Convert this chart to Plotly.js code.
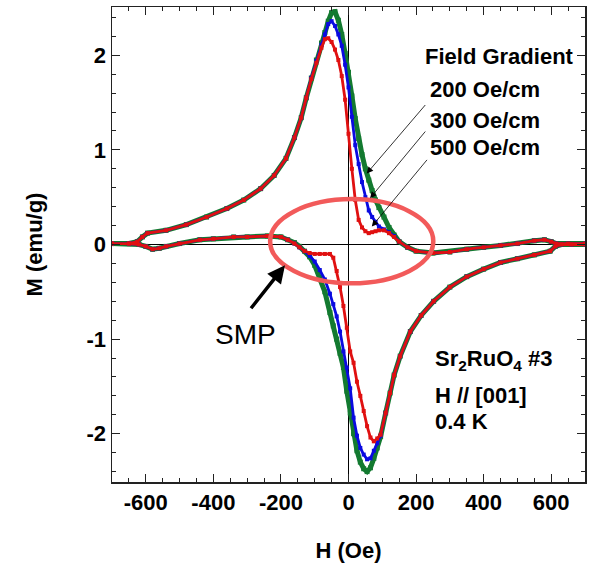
<!DOCTYPE html>
<html>
<head>
<meta charset="utf-8">
<script src="https://cdn.plot.ly/plotly-3.0.1.min.js"></script>
<style>html,body{margin:0;padding:0;background:#fff;}#chart{width:592px;height:565px;}</style>
</head>
<body>
<div id="chart"></div>
<script>
// Field H (Oe): decreasing branch (upper) and increasing branch (lower)
const H_up = [700, 650, 615, 600, 580, 550, 500, 450, 400, 350,
  300, 250, 200, 175, 150, 135, 120, 105, 90, 80,
  70, 60, 50, 40, 30, 20, 10, 0, -10, -20,
  -30, -40, -50, -60, -70, -80, -95, -110, -125, -140,
  -160, -185, -220, -260, -310, -360, -420, -480, -540, -595,
  -610, -625, -650, -700];
const H_down = [-700, -650, -620, -600, -580, -560, -540, -500, -440, -400,
  -340, -300, -240, -200, -180, -160, -145, -130, -115, -100,
  -85, -70, -55, -45, -35, -25, -15, -5, 5, 15,
  25, 35, 45, 55, 65, 75, 85, 95, 110, 123,
  135, 153, 183, 215, 252, 300, 350, 400, 450, 500,
  550, 597, 612, 630, 660, 700];

// M (emu/g), 200 Oe/cm (green)
const M_up_200 = [0.01, 0.01, 0.01, 0.03, 0.05, 0.04, 0.01, -0.01, -0.03, -0.05,
  -0.08, -0.09, -0.07, -0.03, 0.03, 0.10, 0.18, 0.29, 0.39, 0.47,
  0.57, 0.68, 0.80, 0.95, 1.12, 1.33, 1.57, 1.82, 2.02, 2.22,
  2.37, 2.46, 2.45, 2.36, 2.24, 2.13, 1.95, 1.76, 1.55, 1.34,
  1.13, 0.91, 0.73, 0.59, 0.47, 0.38, 0.29, 0.21, 0.15, 0.12,
  0.08, 0.03, 0.01, 0.01];
const M_down_200 = [0.01, 0.01, 0.00, -0.02, -0.05, -0.04, -0.02, 0.01, 0.05, 0.06,
  0.08, 0.08, 0.09, 0.08, 0.05, 0.02, -0.02, -0.07, -0.13, -0.22,
  -0.35, -0.50, -0.72, -0.86, -1.00, -1.15, -1.30, -1.55, -1.78, -2.00,
  -2.18, -2.30, -2.37, -2.40, -2.36, -2.26, -2.15, -2.03, -1.78, -1.57,
  -1.38, -1.18, -0.92, -0.75, -0.60, -0.45, -0.34, -0.26, -0.19, -0.15,
  -0.11, -0.07, -0.02, 0.00, 0.00, 0.00];

// 300 Oe/cm (blue)
const M_up_300 = [0.01, 0.01, 0.01, 0.03, 0.05, 0.04, 0.01, -0.01, -0.03, -0.05,
  -0.08, -0.09, -0.07, -0.03, 0.03, 0.09, 0.13, 0.16, 0.19, 0.24,
  0.29, 0.36, 0.50, 0.66, 0.85, 1.05, 1.35, 1.66, 1.90, 2.10,
  2.22, 2.31, 2.36, 2.33, 2.22, 2.11, 1.94, 1.76, 1.55, 1.34,
  1.13, 0.91, 0.73, 0.59, 0.47, 0.38, 0.29, 0.21, 0.15, 0.12,
  0.08, 0.03, 0.01, 0.01];
const M_down_300 = [0.01, 0.01, 0.00, -0.02, -0.05, -0.04, -0.02, 0.01, 0.05, 0.06,
  0.08, 0.08, 0.09, 0.08, 0.05, 0.01, -0.03, -0.07, -0.12, -0.18,
  -0.27, -0.37, -0.52, -0.63, -0.76, -0.92, -1.13, -1.30, -1.52, -1.83,
  -2.02, -2.15, -2.22, -2.27, -2.26, -2.18, -2.10, -2.02, -1.78, -1.57,
  -1.38, -1.18, -0.92, -0.75, -0.60, -0.45, -0.34, -0.26, -0.19, -0.15,
  -0.11, -0.07, -0.02, 0.00, 0.00, 0.00];

// 500 Oe/cm (red)
const M_up_500 = [0.01, 0.01, 0.01, 0.03, 0.05, 0.04, 0.01, -0.01, -0.03, -0.05,
  -0.08, -0.09, -0.07, -0.03, 0.03, 0.08, 0.12, 0.15, 0.15, 0.14,
  0.13, 0.12, 0.14, 0.18, 0.26, 0.47, 0.80, 1.17, 1.53, 1.78,
  1.95, 2.06, 2.14, 2.18, 2.17, 2.08, 1.92, 1.75, 1.55, 1.34,
  1.13, 0.91, 0.73, 0.59, 0.47, 0.38, 0.29, 0.21, 0.15, 0.12,
  0.08, 0.03, 0.01, 0.01];
const M_down_500 = [0.01, 0.01, 0.00, -0.02, -0.05, -0.04, -0.02, 0.01, 0.05, 0.06,
  0.08, 0.08, 0.09, 0.08, 0.05, 0.01, -0.03, -0.07, -0.09, -0.10,
  -0.10, -0.10, -0.10, -0.14, -0.28, -0.45, -0.65, -0.88, -1.13, -1.25,
  -1.45, -1.60, -1.76, -1.92, -2.04, -2.08, -2.05, -2.01, -1.78, -1.57,
  -1.38, -1.18, -0.92, -0.75, -0.60, -0.45, -0.34, -0.26, -0.19, -0.15,
  -0.11, -0.07, -0.02, 0.00, 0.00, 0.00];

const seriesNames = ['200 Oe/cm', '300 Oe/cm', '500 Oe/cm'];
const seriesColors = ['#137a30', '#0a0ae0', '#e01010'];
const seriesWidths = [5, 2.8, 2.8];
const seriesMarker = [5, 4, 4];
const upBranches = [M_up_200, M_up_300, M_up_500];
const downBranches = [M_down_200, M_down_300, M_down_500];

const xTicks = [-600, -400, -200, 0, 200, 400, 600];
const yTicks = [-2, -1, 0, 1, 2];

const traces = seriesNames.map((name, i) => ({
  type: 'scatter', mode: 'lines+markers', name: name,
  x: H_up.concat(H_down),
  y: upBranches[i].concat(downBranches[i]),
  line: {color: seriesColors[i], width: seriesWidths[i]},
  marker: {symbol: 'square', size: seriesMarker[i], color: seriesColors[i]},
  showlegend: false
}));

const FONT = 'Liberation Sans, Arial, sans-serif';
const boldFont = (s) => ({family: FONT, size: s, color: '#000', weight: 'bold'});

const axisCommon = {
  showgrid: false, zeroline: true, zerolinecolor: '#000', zerolinewidth: 1,
  showline: true, linecolor: '#222', linewidth: 1.5, mirror: 'ticks',
  ticks: 'inside', ticklen: 8, tickwidth: 1, tickcolor: '#222',
  tickfont: boldFont(22)
};

const layout = {
  width: 592, height: 565,
  margin: {l: 112, r: 7, t: 7, b: 83},
  paper_bgcolor: '#fff', plot_bgcolor: '#fff',
  xaxis: Object.assign({}, axisCommon, {
    range: [-700, 700], tickvals: xTicks, ticktext: xTicks.map(String),
    minor: {dtick: 50, ticks: 'inside', ticklen: 4, tickcolor: '#222'},
    title: {text: 'H (Oe)', font: boldFont(22), standoff: 28}
  }),
  yaxis: Object.assign({}, axisCommon, {
    range: [-2.51, 2.51], tickvals: yTicks, ticktext: yTicks.map(String),
    minor: {dtick: 0.2, ticks: 'inside', ticklen: 4, tickcolor: '#222'},
    title: {text: 'M (emu/g)', font: boldFont(22), standoff: 38}
  }),
  shapes: [{
    type: 'circle', xref: 'x', yref: 'y', x0: -232, x1: 251, y0: -0.41, y1: 0.48,
    line: {color: '#f25a5a', width: 4.5}, layer: 'above'
  }],
  annotations: [
    {x: 221, y: 1.99, xref: 'x', yref: 'y', text: 'Field Gradient', showarrow: false, xanchor: 'left', yanchor: 'middle', font: boldFont(22)},
    {x: 236, y: 1.64, xref: 'x', yref: 'y', text: seriesNames[0], showarrow: false, xanchor: 'left', yanchor: 'middle', font: boldFont(22)},
    {x: 236, y: 1.31, xref: 'x', yref: 'y', text: seriesNames[1], showarrow: false, xanchor: 'left', yanchor: 'middle', font: boldFont(22)},
    {x: 236, y: 1.02, xref: 'x', yref: 'y', text: seriesNames[2], showarrow: false, xanchor: 'left', yanchor: 'middle', font: boldFont(22)},
    {x: 54, y: 0.75, ax: 231, ay: 1.49, xref: 'x', yref: 'y', axref: 'x', ayref: 'y', text: '', showarrow: true, arrowhead: 2, arrowsize: 1.6, arrowwidth: 0.8, arrowcolor: '#000', standoff: 0, startstandoff: 0},
    {x: 64, y: 0.49, ax: 231, ay: 1.21, xref: 'x', yref: 'y', axref: 'x', ayref: 'y', text: '', showarrow: true, arrowhead: 2, arrowsize: 1.6, arrowwidth: 0.8, arrowcolor: '#000', standoff: 0, startstandoff: 0},
    {x: 69, y: 0.19, ax: 236, ay: 0.91, xref: 'x', yref: 'y', axref: 'x', ayref: 'y', text: '', showarrow: true, arrowhead: 2, arrowsize: 1.6, arrowwidth: 0.8, arrowcolor: '#000', standoff: 0, startstandoff: 0},
    {x: -188, y: -0.22, ax: -292, ay: -0.69, xref: 'x', yref: 'y', axref: 'x', ayref: 'y', text: '', showarrow: true, arrowhead: 2, arrowsize: 1, arrowwidth: 3.5, arrowcolor: '#000', standoff: 0, startstandoff: 0},
    {x: -305, y: -0.955, xref: 'x', yref: 'y', text: 'SMP', showarrow: false, xanchor: 'center', yanchor: 'middle', font: {family: FONT, size: 28, color: '#000'}},
    {x: 250, y: -1.22, xref: 'x', yref: 'y', text: 'Sr<sub>2</sub>RuO<sub>4</sub> #3', showarrow: false, xanchor: 'left', yanchor: 'middle', font: boldFont(22)},
    {x: 250, y: -1.60, xref: 'x', yref: 'y', text: 'H // [001]', showarrow: false, xanchor: 'left', yanchor: 'middle', font: boldFont(22)},
    {x: 250, y: -1.87, xref: 'x', yref: 'y', text: '0.4 K', showarrow: false, xanchor: 'left', yanchor: 'middle', font: boldFont(22)}
  ]
};

Plotly.newPlot('chart', traces, layout, {staticPlot: true, displayModeBar: false});
</script>
</body>
</html>
